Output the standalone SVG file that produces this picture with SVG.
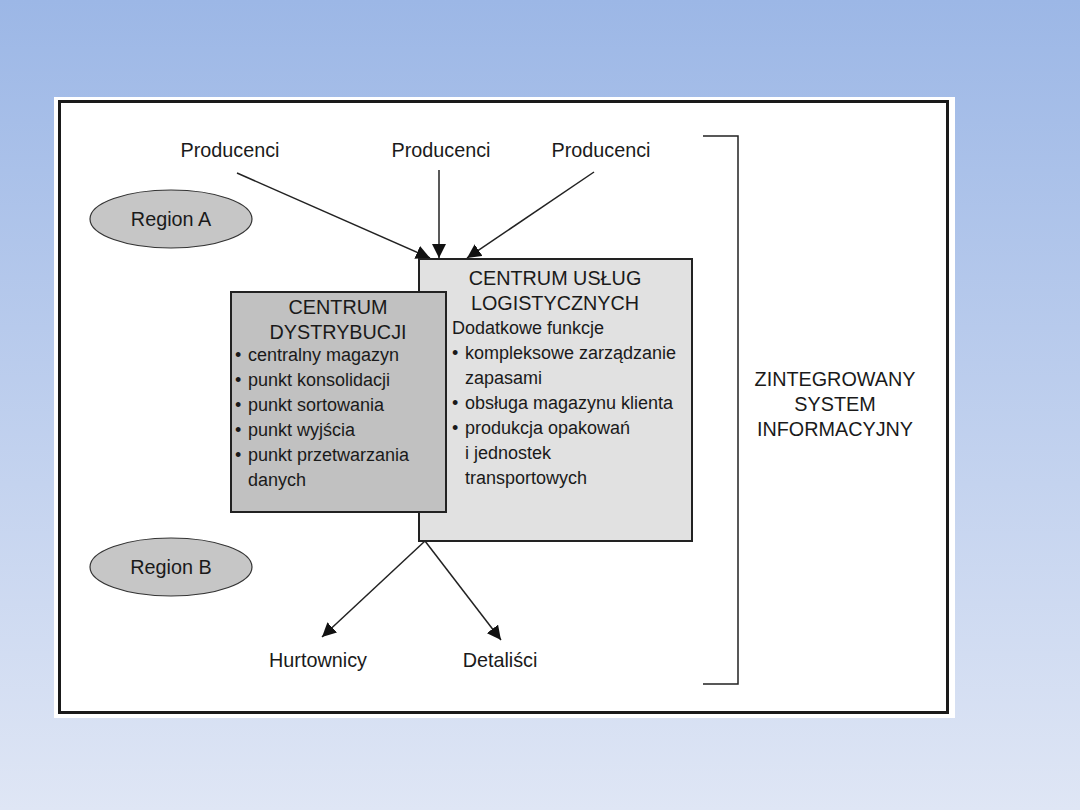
<svg xmlns="http://www.w3.org/2000/svg" width="1080" height="810" viewBox="0 0 1080 810">
<defs>
<linearGradient id="bg" x1="0" y1="0" x2="0" y2="1">
<stop offset="0" stop-color="#9cb7e6"/>
<stop offset="1" stop-color="#dfe6f5"/>
</linearGradient>
<marker id="ah" viewBox="0 0 10 10" refX="10" refY="5" markerWidth="14" markerHeight="14" markerUnits="userSpaceOnUse" orient="auto">
<path d="M0,0 L10,5 L0,10 z" fill="#111"/>
</marker>
<style>
text{font-family:"Liberation Sans",Arial,sans-serif;fill:#1a1a1a;font-size:18px}
.c{text-anchor:middle}
.l{font-size:19.8px}
.ln{stroke:#222;stroke-width:1.5;fill:none}
.box{stroke:#222;stroke-width:2}
</style>
</defs>
<rect x="0" y="0" width="1080" height="810" fill="url(#bg)"/>
<rect x="54" y="97" width="901" height="621" fill="#ffffff"/>
<rect x="59.5" y="101.5" width="888" height="611" fill="#ffffff" stroke="#1a1a1a" stroke-width="3"/>

<g id="connectors">
<line class="ln" x1="237" y1="173" x2="430" y2="258" marker-end="url(#ah)"/>
<line class="ln" x1="439" y1="170" x2="439" y2="258" marker-end="url(#ah)"/>
<line class="ln" x1="594" y1="172" x2="467" y2="258" marker-end="url(#ah)"/>
<line class="ln" x1="425" y1="541" x2="322" y2="637" marker-end="url(#ah)"/>
<line class="ln" x1="425" y1="541" x2="501" y2="640" marker-end="url(#ah)"/>
</g>

<g id="producenci1"><text class="c l" x="230" y="157">Producenci</text></g>
<g id="producenci2"><text class="c l" x="441" y="157">Producenci</text></g>
<g id="producenci3"><text class="c l" x="601" y="157">Producenci</text></g>

<g id="regionA">
<ellipse cx="171" cy="219" rx="81" ry="29" fill="#c6c6c6" stroke="#333" stroke-width="1.2"/>
<text class="c l" x="171" y="226">Region A</text>
</g>
<g id="regionB">
<ellipse cx="171" cy="567" rx="81" ry="29" fill="#c6c6c6" stroke="#333" stroke-width="1.2"/>
<text class="c l" x="171" y="574">Region B</text>
</g>

<g id="centrum-uslug">
<rect class="box" x="419" y="259" width="273" height="282" fill="#e1e1e1"/>
<text class="c l" x="555" y="285">CENTRUM USŁUG</text>
<text class="c l" x="555" y="310">LOGISTYCZNYCH</text>
<text x="452" y="334">Dodatkowe funkcje</text>
<text x="452" y="359">•</text><text x="465" y="359">kompleksowe zarządzanie</text>
<text x="465" y="384">zapasami</text>
<text x="452" y="409">•</text><text x="465" y="409">obsługa magazynu klienta</text>
<text x="452" y="434">•</text><text x="465" y="434">produkcja opakowań</text>
<text x="465" y="459">i jednostek</text>
<text x="465" y="484">transportowych</text>
</g>

<g id="centrum-dystrybucji">
<rect class="box" x="231" y="292" width="215" height="220" fill="#c1c1c1"/>
<text class="c l" x="338" y="314">CENTRUM</text>
<text class="c l" x="338" y="339">DYSTRYBUCJI</text>
<text x="235" y="361">•</text><text x="248" y="361">centralny magazyn</text>
<text x="235" y="386">•</text><text x="248" y="386">punkt konsolidacji</text>
<text x="235" y="411">•</text><text x="248" y="411">punkt sortowania</text>
<text x="235" y="436">•</text><text x="248" y="436">punkt wyjścia</text>
<text x="235" y="461">•</text><text x="248" y="461">punkt przetwarzania</text>
<text x="248" y="486">danych</text>
</g>

<g id="hurtownicy"><text class="c l" x="318" y="667">Hurtownicy</text></g>
<g id="detalisci"><text class="c l" x="500" y="667">Detaliści</text></g>

<g id="system">
<path class="ln" d="M703,136 H738 V684 H703" stroke-width="2"/>
<text class="c l" x="835" y="386">ZINTEGROWANY</text>
<text class="c l" x="835" y="411">SYSTEM</text>
<text class="c l" x="835" y="436">INFORMACYJNY</text>
</g>
</svg>
